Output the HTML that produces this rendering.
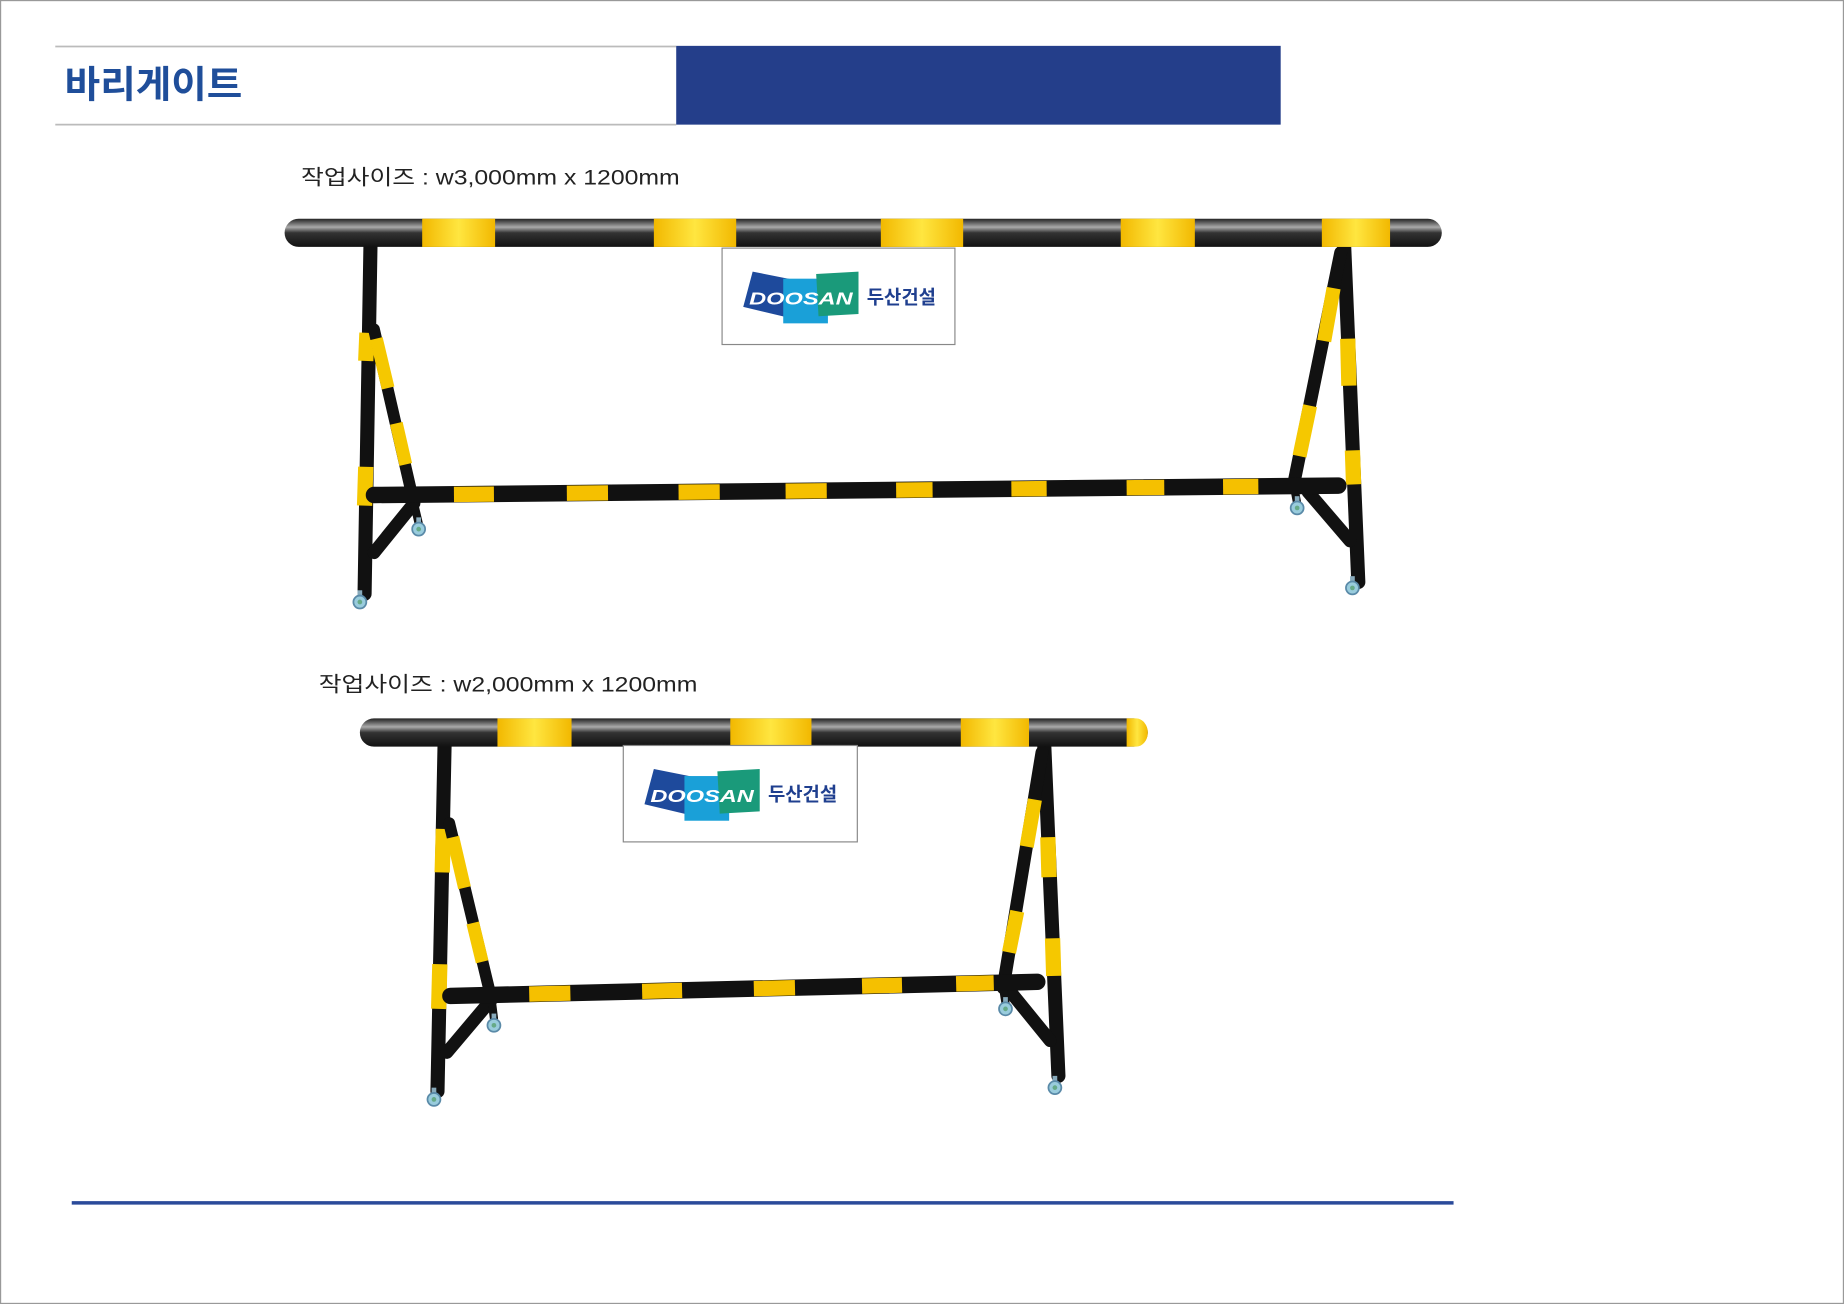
<!DOCTYPE html>
<html><head><meta charset="utf-8"><style>
html,body{margin:0;padding:0;background:#fff}
svg{display:block}
text{font-family:"Liberation Sans","Noto Sans CJK KR",sans-serif}
</style></head><body>
<svg width="1844" height="1304" viewBox="0 0 1568 1109" preserveAspectRatio="none" xmlns="http://www.w3.org/2000/svg">
<defs>
<linearGradient id="bk" x1="0" y1="0" x2="0" y2="1"><stop offset="0" stop-color="#222"/><stop offset=".3" stop-color="#aaa"/><stop offset=".5" stop-color="#333"/><stop offset="1" stop-color="#111"/></linearGradient>
<linearGradient id="yl" x1="0" y1="0" x2="1" y2="0"><stop offset="0" stop-color="#f2b800"/><stop offset=".5" stop-color="#ffe640"/><stop offset="1" stop-color="#f2b800"/></linearGradient>
<g id="wheel"><rect x="-2" y="-10" width="4" height="8" fill="#8ab"/><circle r="5.5" fill="#9cd" stroke="#5a8aa8" stroke-width="1.5"/><circle r="2" fill="#6a8"/></g>
<g id="logo">
<polygon points="4,12 44,20 38,52 -4,42" fill="#1e4a9c"/>
<rect x="30" y="18" width="38" height="38" fill="#1aa0d8"/>
<polygon points="58,14 94,12 94,48 60,50" fill="#1a9a7a"/>
<text x="1" y="40" font-size="15" font-weight="bold" font-style="italic" fill="#fff" textLength="88" lengthAdjust="spacingAndGlyphs">DOOSAN</text>
<text x="101" y="39" font-size="16" font-weight="bold" fill="#1f3f8f">두산건설</text>
</g>
</defs>
<rect x="0.5" y="0.5" width="1567" height="1108" fill="#fff" stroke="#999"/>
<line x1="47" y1="39.5" x2="575" y2="39.5" stroke="#bbb" stroke-width="1.5"/>
<line x1="47" y1="106" x2="575" y2="106" stroke="#bbb" stroke-width="1.5"/>
<rect x="575" y="39" width="514" height="67" fill="#243e8a"/>
<text x="55" y="83" font-size="32" fill="#1f4e9a" font-weight="bold" textLength="151" lengthAdjust="spacingAndGlyphs">바리게이트</text>

<!-- Barricade 1 -->
<text x="256" y="157" font-size="18" fill="#222" textLength="322" lengthAdjust="spacingAndGlyphs">작업사이즈 : w3,000mm x 1200mm</text>
<g stroke-linecap="round">
<line x1="315" y1="210" x2="310" y2="505" stroke="#111" stroke-width="12"/>
<line x1="312" y1="283" x2="311" y2="307" stroke="#f5c800" stroke-width="13" stroke-linecap="butt"/>
<line x1="311" y1="397" x2="310" y2="430" stroke="#f5c800" stroke-width="13" stroke-linecap="butt"/>
<line x1="318" y1="280" x2="352" y2="428" stroke="#111" stroke-width="10"/>
<line x1="320" y1="288" x2="330" y2="330" stroke="#f5c800" stroke-width="11" stroke-linecap="butt"/>
<line x1="337" y1="360" x2="345" y2="395" stroke="#f5c800" stroke-width="11" stroke-linecap="butt"/>
<line x1="318" y1="470" x2="352" y2="428" stroke="#111" stroke-width="11"/>
<line x1="352" y1="428" x2="356" y2="445" stroke="#111" stroke-width="7"/>
<line x1="1143" y1="210" x2="1155" y2="495" stroke="#111" stroke-width="12"/>
<line x1="1146" y1="288" x2="1147" y2="328" stroke="#f5c800" stroke-width="13" stroke-linecap="butt"/>
<line x1="1150" y1="383" x2="1151" y2="412" stroke="#f5c800" stroke-width="13" stroke-linecap="butt"/>
<line x1="1140" y1="215" x2="1100" y2="412" stroke="#111" stroke-width="11"/>
<line x1="1134" y1="245" x2="1126" y2="290" stroke="#f5c800" stroke-width="12" stroke-linecap="butt"/>
<line x1="1114" y1="345" x2="1105" y2="388" stroke="#f5c800" stroke-width="12" stroke-linecap="butt"/>
<line x1="1148" y1="460" x2="1112" y2="418" stroke="#111" stroke-width="11"/>
<line x1="1100" y1="412" x2="1103" y2="428" stroke="#111" stroke-width="7"/>
<line x1="318" y1="421" x2="1138" y2="413" stroke="#111" stroke-width="14"/>
<g stroke="#f5c000" stroke-width="13" stroke-linecap="butt">
<line x1="386" y1="420.5" x2="420" y2="420.2"/><line x1="482" y1="419.5" x2="517" y2="419.2"/>
<line x1="577" y1="418.6" x2="612" y2="418.3"/><line x1="668" y1="417.7" x2="703" y2="417.4"/>
<line x1="762" y1="416.8" x2="793" y2="416.5"/><line x1="860" y1="415.8" x2="890" y2="415.5"/>
<line x1="958" y1="414.8" x2="990" y2="414.5"/><line x1="1040" y1="414" x2="1070" y2="413.7"/>
</g>
</g>
<rect x="242" y="186" width="984" height="24" rx="12" fill="url(#bk)"/>
<g fill="url(#yl)"><rect x="359" y="186" width="62" height="24"/><rect x="556" y="186" width="70" height="24"/><rect x="749" y="186" width="70" height="24"/><rect x="953" y="186" width="63" height="24"/><rect x="1124" y="186" width="58" height="24"/></g>
<rect x="614" y="211" width="198" height="82" fill="#fff" stroke="#888"/>
<use href="#logo" x="636" y="219"/>
<use href="#wheel" x="306" y="512"/><use href="#wheel" x="356" y="450"/><use href="#wheel" x="1103" y="432"/><use href="#wheel" x="1150" y="500"/>

<!-- Barricade 2 -->
<text x="271" y="588" font-size="18" fill="#222" textLength="322" lengthAdjust="spacingAndGlyphs">작업사이즈 : w2,000mm x 1200mm</text>
<g stroke-linecap="round">
<line x1="378" y1="635" x2="372" y2="928" stroke="#111" stroke-width="12"/>
<line x1="377" y1="705" x2="376" y2="742" stroke="#f5c800" stroke-width="13" stroke-linecap="butt"/>
<line x1="374" y1="820" x2="373" y2="858" stroke="#f5c800" stroke-width="13" stroke-linecap="butt"/>
<line x1="382" y1="700" x2="418" y2="850" stroke="#111" stroke-width="10"/>
<line x1="385" y1="712" x2="395" y2="755" stroke="#f5c800" stroke-width="11" stroke-linecap="butt"/>
<line x1="402" y1="785" x2="410" y2="818" stroke="#f5c800" stroke-width="11" stroke-linecap="butt"/>
<line x1="380" y1="895" x2="418" y2="850" stroke="#111" stroke-width="11"/>
<line x1="418" y1="850" x2="420" y2="866" stroke="#111" stroke-width="7"/>
<line x1="888" y1="635" x2="900" y2="915" stroke="#111" stroke-width="12"/>
<line x1="891" y1="712" x2="892" y2="746" stroke="#f5c800" stroke-width="13" stroke-linecap="butt"/>
<line x1="895" y1="798" x2="896" y2="830" stroke="#f5c800" stroke-width="13" stroke-linecap="butt"/>
<line x1="886" y1="640" x2="853" y2="840" stroke="#111" stroke-width="11"/>
<line x1="880" y1="680" x2="873" y2="720" stroke="#f5c800" stroke-width="12" stroke-linecap="butt"/>
<line x1="865" y1="775" x2="858" y2="810" stroke="#f5c800" stroke-width="12" stroke-linecap="butt"/>
<line x1="893" y1="885" x2="858" y2="842" stroke="#111" stroke-width="11"/>
<line x1="853" y1="840" x2="855" y2="853" stroke="#111" stroke-width="7"/>
<line x1="383" y1="847" x2="882" y2="835" stroke="#111" stroke-width="14"/>
<g stroke="#f5c000" stroke-width="13" stroke-linecap="butt">
<line x1="450" y1="845.4" x2="485" y2="844.6"/><line x1="546" y1="843.1" x2="580" y2="842.3"/>
<line x1="641" y1="840.8" x2="676" y2="840"/><line x1="733" y1="838.6" x2="767" y2="837.8"/>
<line x1="813" y1="836.7" x2="845" y2="835.9"/>
</g>
</g>
<rect x="306" y="611" width="670" height="24" rx="12" fill="url(#bk)"/>
<g fill="url(#yl)"><rect x="423" y="611" width="63" height="24"/><rect x="621" y="611" width="69" height="24"/><rect x="817" y="611" width="58" height="24"/><path d="M958 611 H966 A10 12 0 0 1 966 635 H958 Z"/></g>
<rect x="530" y="634" width="199" height="82" fill="#fff" stroke="#888"/>
<use href="#logo" x="552" y="642"/>
<use href="#wheel" x="369" y="935"/><use href="#wheel" x="420" y="872"/><use href="#wheel" x="855" y="858"/><use href="#wheel" x="897" y="925"/>

<line x1="61" y1="1023" x2="1236" y2="1023" stroke="#2a4a9a" stroke-width="3"/>
</svg>
</body></html>
